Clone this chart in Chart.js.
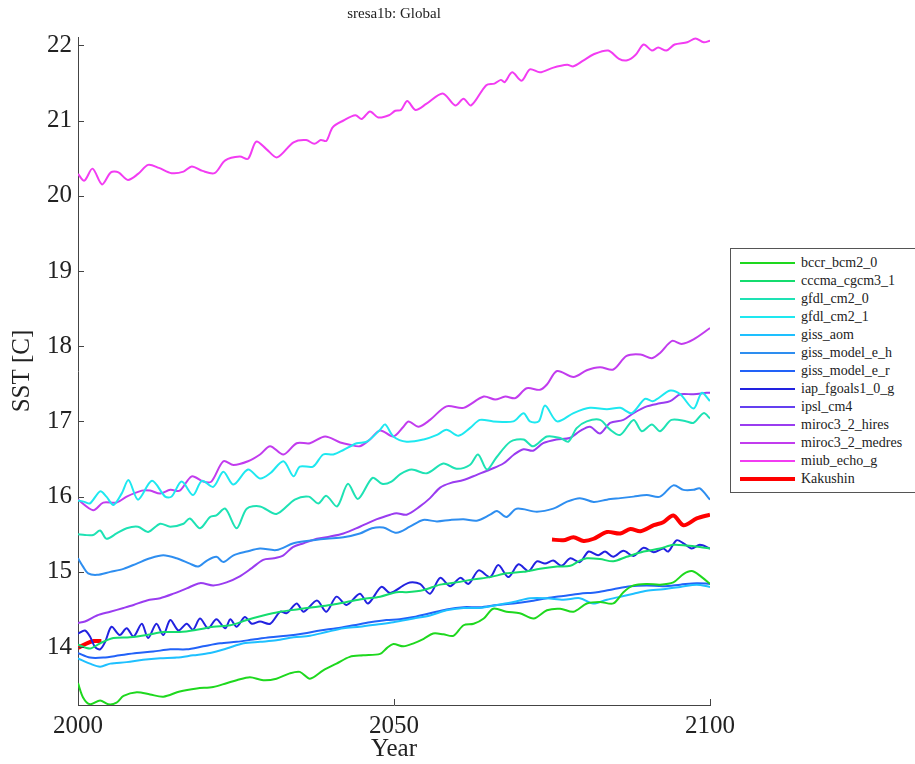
<!DOCTYPE html>
<html>
<head>
<meta charset="utf-8">
<script src="https://cdn.jsdelivr.net/npm/chart.js@4.4.0/dist/chart.umd.min.js"></script>
<style>
  html, body { margin: 0; padding: 0; background: #fff; overflow: hidden; }
  #wrap { position: relative; width: 915px; height: 764px; }
  #legend {
    position: absolute; left: 730px; top: 248px; width: 200px;
    border: 1px solid #555; background: #fff; padding: 5px 0 4px 0;
    font-family: 'Liberation Serif', serif; font-size: 14px; color: #222;
  }
  .row { height: 18px; display: flex; align-items: center; white-space: nowrap; }
  .swatch { margin-left: 9px; margin-right: 6px; width: 55px; }
</style>
</head>
<body>
<div id="wrap">
  <canvas id="sstChart" width="915" height="764"></canvas>
  <div id="legend"></div>
</div>
<script>
// --- datos: [año, SST] ---
const TITLE = "sresa1b: Global";
const X_TICKS = [2000, 2050, 2100];
const Y_TICKS = [14, 15, 16, 17, 18, 19, 20, 21, 22];

const bccrBcm2 = [[2000,13.52],[2000.8,13.33],[2001.9,13.24],[2003.5,13.29],[2004.8,13.24],[2006.1,13.26],[2007.2,13.35],[2009.3,13.4],[2011.4,13.37],[2013.5,13.34],[2016.1,13.41],[2018.8,13.45],[2021.4,13.47],[2023.5,13.52],[2025.1,13.56],[2027.2,13.6],[2029.3,13.56],[2031.4,13.58],[2033.5,13.65],[2035.1,13.67],[2036.7,13.58],[2038.8,13.69],[2040.9,13.78],[2043,13.87],[2045.1,13.89],[2047.8,13.91],[2048.9,13.99],[2049.9,14.04],[2051.5,14.01],[2053.1,14.05],[2054.7,14.11],[2056.2,14.18],[2057.8,14.17],[2059.4,14.15],[2061,14.29],[2062.6,14.31],[2064.2,14.38],[2065.7,14.51],[2067.8,14.47],[2069.9,14.45],[2072.1,14.38],[2074.2,14.49],[2076.3,14.51],[2078.4,14.47],[2080.5,14.58],[2082.6,14.6],[2084.7,14.58],[2086.3,14.73],[2087.9,14.82],[2090,14.84],[2092.1,14.83],[2094.2,14.86],[2095.8,14.97],[2097.1,15.01],[2098.4,14.95],[2100,14.84]];
const cccmaCgcm3 = [[2000,14.03],[2001.9,13.98],[2003.5,14.05],[2005.6,14.12],[2008.2,14.13],[2010.9,14.16],[2013.5,14.2],[2016.1,14.2],[2018.8,14.23],[2021.4,14.27],[2024.1,14.29],[2026.7,14.36],[2029.3,14.42],[2032,14.47],[2034.6,14.5],[2037.2,14.53],[2039.9,14.56],[2042.5,14.6],[2045.1,14.64],[2047.8,14.67],[2050.4,14.73],[2052,14.73],[2054.7,14.76],[2057.3,14.83],[2059.9,14.86],[2062.6,14.9],[2065.2,14.93],[2067.8,14.98],[2070.5,15.0],[2073.1,15.04],[2075.8,15.07],[2077.9,15.08],[2079.4,15.15],[2080.5,15.18],[2082.6,15.17],[2084.7,15.14],[2086.8,15.2],[2089.5,15.27],[2092.1,15.31],[2094.2,15.36],[2096.3,15.35],[2098.4,15.33],[2100,15.31]];
const gfdlCm20 = [[2000,15.5],[2001.1,15.49],[2002.4,15.49],[2003.5,15.55],[2004.5,15.44],[2006.1,15.51],[2007.7,15.58],[2009.5,15.6],[2011.1,15.53],[2013,15.64],[2014.6,15.6],[2016.7,15.64],[2017.7,15.71],[2019.3,15.58],[2020.9,15.73],[2021.9,15.75],[2023.3,15.84],[2025.1,15.58],[2026.7,15.84],[2028.8,15.87],[2031.4,15.77],[2034.3,15.96],[2036.5,16.0],[2038,15.91],[2039.3,16.01],[2041,15.87],[2042.7,16.17],[2044.3,15.97],[2046.6,16.25],[2048.1,16.17],[2049.6,16.2],[2051,16.3],[2052.8,16.36],[2055.2,16.31],[2057.8,16.44],[2059.9,16.37],[2062,16.42],[2063.3,16.56],[2064.7,16.36],[2066.2,16.52],[2068.4,16.73],[2070.5,16.76],[2072,16.67],[2074.2,16.8],[2076.3,16.78],[2077.6,16.73],[2078.9,16.91],[2080.5,17.0],[2082.6,17.02],[2084.2,16.89],[2085.8,16.82],[2087.9,17.02],[2089.2,16.87],[2090.8,16.96],[2092.1,16.87],[2093.9,17.02],[2096.3,17.0],[2097.4,16.98],[2099,17.11],[2100,17.04]];
const gfdlCm21 = [[2000,15.95],[2001,15.93],[2001.9,15.91],[2003.5,16.07],[2004.5,16.0],[2005.6,15.89],[2006.9,16.04],[2008,16.22],[2009.5,15.96],[2011.7,16.21],[2013.8,16.0],[2014.8,16.0],[2016.4,16.2],[2018.2,16.02],[2019.6,16.21],[2021.4,16.13],[2023,16.33],[2024.6,16.16],[2026.9,16.36],[2028.8,16.24],[2030.4,16.31],[2032.5,16.47],[2034.1,16.27],[2035.1,16.4],[2037.2,16.4],[2038.8,16.56],[2040.4,16.56],[2042,16.62],[2044.1,16.71],[2045.7,16.73],[2047.8,16.89],[2048.6,16.96],[2049.9,16.8],[2052,16.73],[2054.7,16.76],[2056.8,16.82],[2058.3,16.89],[2060.2,16.81],[2062,16.91],[2063.6,17.02],[2065.7,17.0],[2068.9,17.0],[2070.5,17.11],[2071.5,17.0],[2072.9,17.0],[2073.9,17.21],[2075.8,17.0],[2078.4,17.11],[2081,17.18],[2083.7,17.16],[2085.8,17.18],[2087.6,17.11],[2089.7,17.3],[2091,17.27],[2093.7,17.41],[2095.3,17.36],[2097.4,17.17],[2098.7,17.38],[2100,17.27]];
const gissAom = [[2000,13.85],[2001.9,13.78],[2003.5,13.74],[2005.1,13.78],[2007.7,13.8],[2010.3,13.83],[2013,13.85],[2015.6,13.86],[2018.2,13.89],[2020.9,13.92],[2023.5,13.98],[2026.2,14.05],[2028.8,14.07],[2031.4,14.09],[2034.1,14.13],[2036.7,14.15],[2039.3,14.2],[2042,14.25],[2044.6,14.27],[2047.3,14.3],[2049.9,14.33],[2053.1,14.38],[2055.7,14.42],[2058.3,14.49],[2061,14.52],[2063.6,14.52],[2066.3,14.56],[2068.9,14.6],[2071.5,14.65],[2074.2,14.65],[2076.8,14.63],[2079.4,14.65],[2081.5,14.58],[2083.7,14.63],[2085.8,14.67],[2087.9,14.71],[2090,14.75],[2092.6,14.77],[2095.3,14.8],[2097.9,14.83],[2100,14.8]];
const gissModelEH = [[2000,15.18],[2000.8,15.07],[2001.6,14.98],[2003,14.96],[2005.1,15.0],[2007.2,15.04],[2009.3,15.11],[2011.4,15.18],[2013.5,15.22],[2015.6,15.18],[2017.7,15.11],[2019,15.07],[2020.4,15.15],[2021.9,15.2],[2023,15.13],[2024.6,15.22],[2026.7,15.27],[2028.8,15.31],[2031.4,15.29],[2034.1,15.38],[2036.2,15.41],[2039.3,15.44],[2042,15.46],[2044.6,15.51],[2046.5,15.58],[2048.3,15.59],[2050.4,15.52],[2052.5,15.6],[2054.6,15.69],[2056.8,15.67],[2058.9,15.69],[2061,15.7],[2063.1,15.68],[2065.2,15.76],[2066.3,15.81],[2067.8,15.73],[2069.4,15.84],[2072.6,15.8],[2075.2,15.84],[2077.3,15.93],[2079.4,15.98],[2081.6,15.93],[2083.7,15.96],[2085.8,15.98],[2087.9,16.0],[2090,16.02],[2092.1,16.0],[2094.2,16.15],[2095.8,16.09],[2097.4,16.09],[2098.4,16.11],[2100,15.96]];
const gissModelER = [[2000,13.92],[2001.9,13.86],[2004,13.86],[2006.6,13.89],[2009.3,13.92],[2011.9,13.94],[2014.6,13.97],[2017.2,13.97],[2019.8,14.01],[2022.5,14.05],[2025.1,14.07],[2027.7,14.1],[2030.4,14.13],[2033,14.15],[2035.7,14.18],[2038.3,14.22],[2040.9,14.25],[2043.6,14.29],[2046.2,14.33],[2048.8,14.36],[2050.9,14.37],[2053.1,14.4],[2055.7,14.45],[2058.3,14.5],[2061,14.53],[2063.6,14.53],[2066.3,14.56],[2068.9,14.58],[2071.5,14.61],[2074.2,14.65],[2076.8,14.68],[2079.4,14.71],[2082.1,14.73],[2084.7,14.77],[2087.4,14.81],[2090,14.82],[2092.6,14.81],[2095.3,14.83],[2097.9,14.85],[2100,14.84]];
const iapFgoals = [[2000,14.18],[2001.1,14.22],[2001.9,14.14],[2002.7,14.0],[2003.5,13.97],[2004.3,14.07],[2005.3,14.27],[2006.6,14.16],[2007.7,14.25],[2008.8,14.14],[2010.1,14.31],[2011.1,14.12],[2012.4,14.31],[2013.5,14.16],[2014.6,14.36],[2015.9,14.22],[2017.2,14.31],[2018.2,14.23],[2019.3,14.38],[2020.6,14.25],[2021.9,14.37],[2023.3,14.25],[2024.1,14.37],[2025.1,14.27],[2026.4,14.4],[2027.5,14.31],[2028.8,14.34],[2030.4,14.31],[2032,14.47],[2033,14.45],[2034.6,14.58],[2035.7,14.47],[2037.8,14.62],[2039.3,14.47],[2040.9,14.67],[2042.5,14.56],[2044.6,14.71],[2045.9,14.58],[2048,14.8],[2049.4,14.72],[2051.5,14.82],[2052.5,14.86],[2054.1,14.84],[2055.7,14.71],[2057.3,14.92],[2058.9,14.81],[2060.5,14.92],[2061.8,14.84],[2063.4,15.02],[2065.2,14.93],[2066.5,15.09],[2068.1,14.93],[2069.7,15.1],[2071.3,15.01],[2072.6,15.14],[2073.9,15.11],[2075.2,15.15],[2076.5,15.08],[2077.9,15.18],[2079.4,15.13],[2080.8,15.27],[2082.3,15.22],[2083.4,15.27],[2084.7,15.2],[2086.3,15.28],[2087.9,15.21],[2089.5,15.32],[2091.1,15.26],[2092.6,15.31],[2093.4,15.27],[2094.7,15.42],[2095.8,15.38],[2097.1,15.31],[2098.4,15.36],[2100,15.31]];
const ipslCm4 = [];
const miroc32Hires = [[2000,14.32],[2001.1,14.34],[2003,14.42],[2005.1,14.47],[2007.2,14.52],[2008.8,14.56],[2010.9,14.62],[2013,14.65],[2015.1,14.71],[2017.2,14.78],[2019.3,14.85],[2021.4,14.82],[2023.5,14.86],[2025.6,14.94],[2027.5,15.05],[2029.3,15.16],[2031,15.18],[2032.5,15.22],[2034,15.33],[2035.7,15.38],[2037.8,15.44],[2039.9,15.47],[2042,15.51],[2044.6,15.6],[2047.3,15.7],[2049.4,15.76],[2050.4,15.78],[2052,15.76],[2054.1,15.87],[2055.7,15.98],[2057.3,16.12],[2058.9,16.18],[2061,16.22],[2063.1,16.29],[2065.2,16.36],[2067.3,16.44],[2069,16.56],[2070.5,16.63],[2072,16.61],[2073.6,16.71],[2075.7,16.76],[2077.8,16.78],[2079.4,16.87],[2081,16.93],[2082.6,16.84],[2084.2,16.98],[2086.3,17.02],[2087.9,17.11],[2090,17.2],[2092.1,17.24],[2093.7,17.27],[2095.3,17.36],[2097.4,17.36],[2099.5,17.38],[2100,17.38]];
const miroc32Medres = [[2000,15.96],[2002.4,15.82],[2004,15.92],[2006.1,15.92],[2007.7,16.0],[2010.1,16.08],[2011.4,16.08],[2013,16.04],[2014.6,16.09],[2016.1,16.08],[2018,16.27],[2019.8,16.2],[2021.1,16.2],[2023,16.47],[2024.6,16.42],[2026.9,16.47],[2028.8,16.56],[2030.4,16.67],[2032.5,16.56],[2034.6,16.71],[2036.7,16.71],[2039.1,16.8],[2041.5,16.72],[2043,16.69],[2044.6,16.67],[2046.2,16.76],[2047.8,16.88],[2049.9,16.8],[2051.5,16.93],[2052.3,17.0],[2053.9,16.93],[2055.7,17.02],[2058.3,17.2],[2061,17.18],[2064.2,17.33],[2066,17.29],[2067.6,17.33],[2069.2,17.31],[2071,17.44],[2073.1,17.42],[2074.2,17.49],[2075.8,17.67],[2078.4,17.59],[2080.5,17.68],[2082.6,17.72],[2084.7,17.69],[2086.8,17.87],[2089,17.89],[2090.8,17.84],[2092.1,17.91],[2094,18.07],[2095.5,18.03],[2097.4,18.09],[2100,18.24]];
const miubEchoG = [[2000,20.29],[2001,20.2],[2002.3,20.36],[2003.8,20.15],[2005.2,20.31],[2006.4,20.31],[2007.9,20.21],[2009.5,20.29],[2011.1,20.41],[2012.8,20.37],[2014.8,20.3],[2016.7,20.32],[2018,20.39],[2019.7,20.33],[2021.6,20.3],[2023.3,20.47],[2025.6,20.52],[2026.9,20.49],[2028.2,20.72],[2029.8,20.62],[2031.5,20.51],[2034.1,20.71],[2036.1,20.74],[2037.4,20.69],[2038.4,20.74],[2039.3,20.73],[2040.3,20.91],[2042,21.0],[2043.9,21.07],[2044.9,21.02],[2046.2,21.12],[2047.5,21.04],[2049.2,21.07],[2050.2,21.13],[2051.1,21.14],[2052.1,21.26],[2053.4,21.14],[2055.1,21.22],[2057.7,21.36],[2059.7,21.2],[2061,21.29],[2062.2,21.2],[2064.6,21.47],[2065.9,21.49],[2066.9,21.54],[2067.5,21.51],[2068.7,21.64],[2070.2,21.53],[2071.5,21.68],[2073.1,21.64],[2075.1,21.7],[2077.4,21.74],[2078.4,21.72],[2080,21.8],[2081.6,21.88],[2083.9,21.93],[2085.6,21.82],[2086.9,21.8],[2088.2,21.87],[2089.5,22.01],[2090.8,21.93],[2091.8,21.97],[2093.1,21.93],[2094.4,22.01],[2096.4,22.04],[2097.7,22.09],[2099,22.04],[2100,22.06]];
const kakushinEarly = [[2000,13.99],[2001.4,14.05],[2002.5,14.08],[2003.7,14.08]];
const kakushinLate = [[2075,15.43],[2076.8,15.42],[2078.4,15.46],[2080,15.41],[2081.6,15.44],[2083.7,15.53],[2085.8,15.51],[2087.4,15.57],[2089,15.54],[2091.1,15.62],[2092.6,15.66],[2094.2,15.75],[2095.8,15.62],[2097.9,15.71],[2100,15.76]];

const FONT = "'Liberation Serif', 'Times New Roman', serif";

function toPoints(pairs) {
    return pairs.map(([x, y]) => ({ x: x, y: y }));
}

function serie(label, pairs, color, width, inLegend) {
    return {
        label: label,
        data: toPoints(pairs),
        borderColor: color,
        backgroundColor: color,
        borderWidth: width || 2,
        pointRadius: 0,
        tension: 0.3,
        fill: false,
        inLegend: inLegend !== false
    };
}

// ticks hacia dentro y titulo, al estilo MATLAB
const matlabAxes = {
    id: 'matlabAxes',
    afterDraw(chart) {
        const { ctx, chartArea } = chart;
        const x = chart.scales.x, y = chart.scales.y;
        ctx.save();
        ctx.strokeStyle = '#444';
        ctx.lineWidth = 1;
        ctx.beginPath();
        x.ticks.forEach(t => {
            const px = Math.round(x.getPixelForValue(t.value)) + 0.5;
            ctx.moveTo(px, chartArea.bottom);
            ctx.lineTo(px, chartArea.bottom - 6);
        });
        y.ticks.forEach(t => {
            const py = Math.round(y.getPixelForValue(t.value)) + 0.5;
            ctx.moveTo(chartArea.left, py);
            ctx.lineTo(chartArea.left + 6, py);
        });
        ctx.stroke();
        ctx.fillStyle = '#222';
        ctx.font = "15px " + FONT;
        ctx.textAlign = 'center';
        ctx.textBaseline = 'middle';
        ctx.fillText(TITLE, (chartArea.left + chartArea.right) / 2, 14);
        ctx.restore();
    }
};

const datasets = [
    serie('bccr_bcm2_0', bccrBcm2, '#1ed81e'),
    serie('cccma_cgcm3_1', cccmaCgcm3, '#14dc6e'),
    serie('gfdl_cm2_0', gfdlCm20, '#1ee2b4'),
    serie('gfdl_cm2_1', gfdlCm21, '#1ee8f0'),
    serie('giss_aom', gissAom, '#1ec0ff'),
    serie('giss_model_e_h', gissModelEH, '#2e8ef0'),
    serie('giss_model_e_r', gissModelER, '#2262f8'),
    serie('iap_fgoals1_0_g', iapFgoals, '#2222e0'),
    serie('ipsl_cm4', ipslCm4, '#6440f0'),
    serie('miroc3_2_hires', miroc32Hires, '#9a3cf0'),
    serie('miroc3_2_medres', miroc32Medres, '#c23cee'),
    serie('miub_echo_g', miubEchoG, '#f23cf2'),
    serie('Kakushin', kakushinEarly, '#ff0000', 4),
    serie('Kakushin', kakushinLate, '#ff0000', 4, false)
];

const axisFont = { family: FONT, size: 25 };

const chart = new Chart(document.getElementById('sstChart'), {
    type: 'line',
    data: { datasets: datasets },
    options: {
        responsive: false,
        animation: false,
        layout: { padding: { top: 37, right: 205, left: 0, bottom: 0 } },
        plugins: { legend: { display: false }, tooltip: { enabled: false } },
        scales: {
            x: {
                type: 'linear',
                min: 2000, max: 2100,
                afterBuildTicks: s => { s.ticks = X_TICKS.map(v => ({ value: v })); },
                afterFit: s => { s.height = 59; },
                grid: { display: false, drawTicks: false },
                border: { display: true, color: '#444', width: 1 },
                ticks: { font: axisFont, color: '#222', padding: 6, maxRotation: 0, callback: v => String(v) },
                title: { display: true, text: 'Year', font: axisFont, color: '#222', padding: { top: 0, bottom: 0 } }
            },
            y: {
                type: 'linear',
                min: 13.23, max: 22.11,
                afterBuildTicks: s => { s.ticks = Y_TICKS.map(v => ({ value: v })); },
                afterFit: s => { s.width = 78; },
                grid: { display: false, drawTicks: false },
                border: { display: true, color: '#444', width: 1 },
                ticks: { font: axisFont, color: '#222', padding: 6, callback: v => String(v) },
                title: { display: true, text: 'SST [C]', font: axisFont, color: '#222', padding: { top: 7, bottom: 0 } }
            }
        }
    },
    plugins: [matlabAxes]
});

// leyenda en HTML a partir de los datasets
const legendEl = document.getElementById('legend');
chart.data.datasets.filter(d => d.inLegend).forEach(d => {
    const row = document.createElement('div');
    row.className = 'row';
    const sw = document.createElement('div');
    sw.className = 'swatch';
    sw.style.height = d.borderWidth + 'px';
    sw.style.background = d.borderColor;
    const txt = document.createElement('span');
    txt.textContent = d.label;
    row.appendChild(sw);
    row.appendChild(txt);
    legendEl.appendChild(row);
});
</script>
</body>
</html>
